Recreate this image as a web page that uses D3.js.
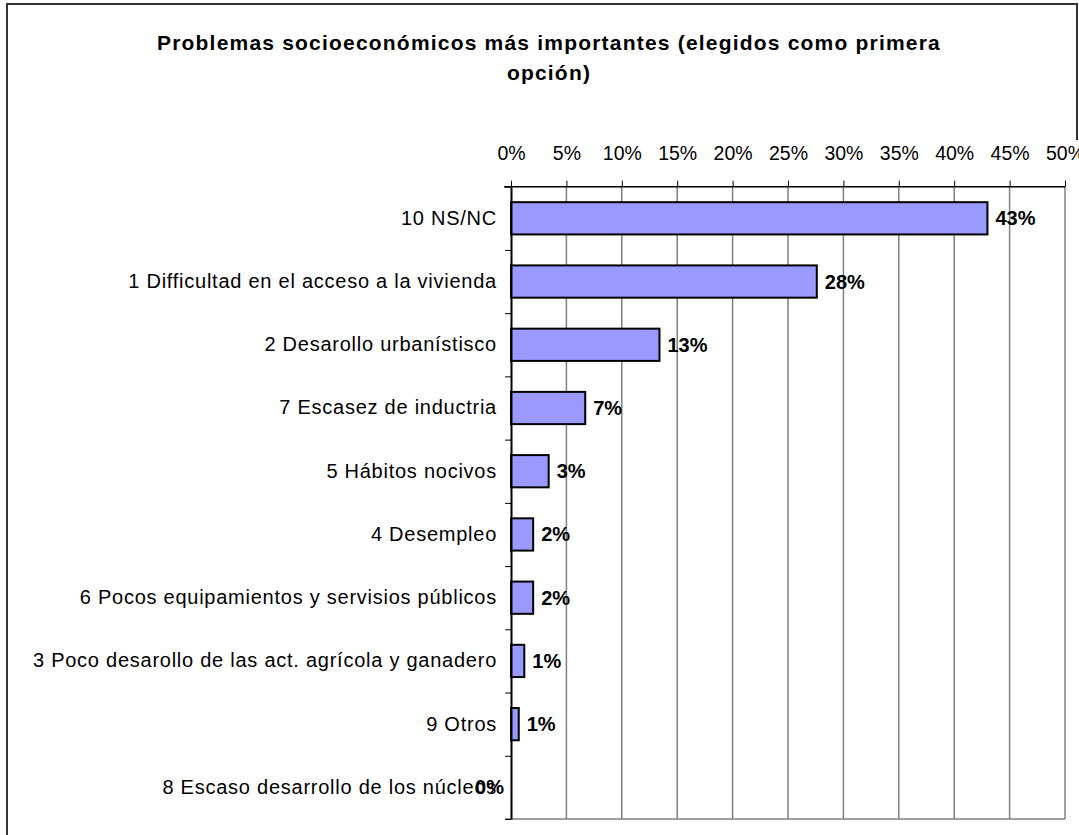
<!DOCTYPE html>
<html>
<head>
<meta charset="utf-8">
<script src="https://cdn.jsdelivr.net/npm/d3@7"></script>
<style>
  body { margin: 0; background: #fff; }
  svg { display: block; font-family: Arial, "Liberation Sans", sans-serif; }
  .axis path, .axis line { stroke: #000; }
  .grid line { stroke: #808080; stroke-width: 1.5; }
</style>
</head>
<body>
<div id="chart"></div>
<script>
var categories = [
  '10 NS/NC',
  '1 Difficultad en el acceso a la vivienda',
  '2 Desarollo urbanístisco',
  '7 Escasez de inductria',
  '5 Hábitos nocivos',
  '4 Desempleo',
  '6 Pocos equipamientos y servisios públicos',
  '3 Poco desarollo de las act. agrícola y ganadero',
  '9 Otros',
  '8 Escaso desarrollo de los núcleos'
];
var values = [0.43, 0.276, 0.134, 0.067, 0.034, 0.02, 0.02, 0.012, 0.007, 0];
var xTicks = [0, 0.05, 0.1, 0.15, 0.2, 0.25, 0.3, 0.35, 0.4, 0.45, 0.5];
var titleLines = ['Problemas socioeconómicos más importantes (elegidos como primera', 'opción)'];

var data = categories.map((c, i) => ({ name: c, value: values[i] }));

var size = { width: 1079, height: 835 };
var plot = { left: 511, right: 1065, top: 186.7, bottom: 819 };

var pct = d3.format('.0%');

var x = d3.scaleLinear()
  .domain([0, 0.5])
  .range([plot.left, plot.right]);

var y = d3.scaleBand()
  .domain(categories)
  .range([plot.top, plot.bottom])
  .paddingInner(0.49)
  .paddingOuter(0.245);

// boundaries between categories, for the small ticks on the left axis
var yEdge = d3.scaleLinear()
  .domain([0, categories.length])
  .range([plot.top, plot.bottom]);

var svg = d3.select('#chart').append('svg')
  .attr('width', size.width)
  .attr('height', size.height);

// outer frame
svg.append('path')
  .attr('d', 'M7,840V4H1077V140')
  .attr('fill', 'none')
  .attr('stroke', '#333')
  .attr('stroke-width', 2);

svg.append('g')
  .selectAll('text')
  .data(titleLines)
  .enter().append('text')
  .attr('x', 549)
  .attr('y', (d, i) => 50 + i * 30)
  .attr('text-anchor', 'middle')
  .style('font-size', '21px')
  .style('font-weight', 'bold')
  .style('letter-spacing', '1.2px')
  .text(d => d);

// vertical gridlines + plot border
svg.append('g')
  .attr('class', 'grid')
  .selectAll('line')
  .data(xTicks.slice(1))
  .enter().append('line')
  .attr('x1', d => x(d))
  .attr('x2', d => x(d))
  .attr('y1', plot.top)
  .attr('y2', plot.bottom);

svg.append('line')
  .attr('x1', plot.left - 6)
  .attr('x2', plot.right)
  .attr('y1', plot.bottom)
  .attr('y2', plot.bottom)
  .attr('stroke', '#808080')
  .attr('stroke-width', 1.5);

svg.selectAll('.bar')
  .data(data)
  .enter().append('rect')
  .attr('class', 'bar')
  .attr('x', x(0))
  .attr('y', d => y(d.name))
  .attr('width', d => x(d.value) - x(0))
  .attr('height', y.bandwidth())
  .attr('fill', '#9999ff')
  .attr('stroke', '#000')
  .attr('stroke-width', 2)
  .style('display', d => d.value > 0 ? null : 'none');

// top axis
var xAxis = d3.axisTop(x)
  .tickValues(xTicks)
  .tickFormat(pct)
  .tickSize(6)
  .tickSizeOuter(0)
  .tickPadding(21);

var gx = svg.append('g')
  .attr('class', 'axis x')
  .attr('transform', `translate(0, ${plot.top})`)
  .call(xAxis);
gx.select('.domain').attr('d', `M${plot.left - 7},0H${plot.right}`).attr('stroke-width', 1.5);
gx.selectAll('text').style('font-size', '19.5px').attr('fill', '#000');

// left axis: boundary ticks
var gEdge = svg.append('g')
  .attr('class', 'axis yedge')
  .attr('transform', `translate(${plot.left}, 0)`)
  .call(d3.axisLeft(yEdge).ticks(categories.length).tickFormat('').tickSize(6).tickSizeOuter(0));
gEdge.select('.domain').attr('stroke-width', 2);

// left axis: category labels
var gy = svg.append('g')
  .attr('class', 'axis y')
  .attr('transform', `translate(${plot.left}, 0)`)
  .call(d3.axisLeft(y).tickSize(0).tickPadding(14));
gy.select('.domain').remove();
gy.selectAll('text')
  .style('font-size', '20px')
  .style('letter-spacing', '0.75px')
  .attr('fill', '#000');

// value labels
svg.selectAll('.label')
  .data(data)
  .enter().append('text')
  .attr('class', 'label')
  .attr('x', d => d.value > 0 ? x(d.value) + 8 : x(0) - 7)
  .attr('y', d => y(d.name) + y.bandwidth() / 2)
  .attr('dy', '0.35em')
  .attr('text-anchor', d => d.value > 0 ? 'start' : 'end')
  .style('font-size', '20px')
  .style('font-weight', 'bold')
  .text(d => pct(d.value));
</script>
</body>
</html>
